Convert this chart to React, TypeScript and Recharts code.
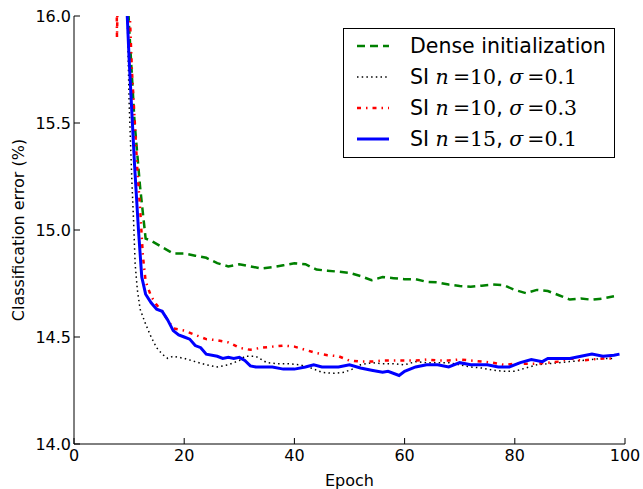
import React from 'react'
import { LineChart, Line, XAxis, YAxis, Legend } from 'recharts'

// epochs / error (%), one pair of arrays per run
const denseEpochs = [9, 10, 11, 12, 13, 14, 16, 18, 20, 22, 24, 26, 28, 30, 32, 34, 36, 38, 40, 42, 44, 46, 48, 50, 52, 54, 56, 58, 60, 62, 64, 66, 68, 70, 72, 74, 76, 78, 80, 82, 84, 86, 88, 90, 92, 94, 96, 98]
const denseError = [16.5, 15.95, 15.5, 15.2, 14.96, 14.95, 14.92, 14.89, 14.89, 14.88, 14.87, 14.845, 14.83, 14.84, 14.83, 14.82, 14.826, 14.835, 14.845, 14.84, 14.815, 14.81, 14.805, 14.8, 14.785, 14.765, 14.78, 14.775, 14.77, 14.77, 14.758, 14.755, 14.745, 14.738, 14.735, 14.74, 14.745, 14.742, 14.72, 14.705, 14.72, 14.715, 14.695, 14.675, 14.68, 14.674, 14.68, 14.69]

const si10a01Epochs = [9.6, 10, 10.5, 10.8, 11.1, 11.5, 12, 13, 14, 15, 16, 17, 18, 20, 22, 24, 26, 28, 30, 31, 33, 35, 37, 39, 41, 43, 45, 47, 49, 50.5, 52, 54, 56, 58, 60, 62, 64, 66, 68, 70, 72, 74, 76, 78, 80, 82, 84, 86, 88, 90, 92, 94, 96, 98]
const si10a01Error = [16.1, 15.6, 15.23, 15.05, 14.84, 14.72, 14.63, 14.56, 14.5, 14.45, 14.42, 14.4, 14.41, 14.4, 14.385, 14.37, 14.36, 14.37, 14.39, 14.41, 14.41, 14.38, 14.375, 14.375, 14.37, 14.355, 14.335, 14.33, 14.335, 14.35, 14.37, 14.38, 14.375, 14.375, 14.37, 14.385, 14.38, 14.38, 14.38, 14.37, 14.36, 14.355, 14.345, 14.34, 14.34, 14.355, 14.37, 14.375, 14.38, 14.385, 14.39, 14.395, 14.4, 14.4]

const si10a03Epochs = [7.6, 7.8, 8.3, 10, 10.5, 11, 11.5, 12, 12.5, 13, 14, 15, 16, 17, 18, 20, 22, 24, 26, 28, 30, 32, 34, 36, 38, 40, 42, 44, 46, 48, 50, 52, 54, 56, 58, 60, 62, 64, 66, 68, 70, 72, 74, 76, 78, 80, 82, 84, 86, 88, 90, 92, 94, 96, 98]
const si10a03Error = [16.5, 15.9, 16.6, 16.1, 15.75, 15.52, 15.28, 15.1, 14.88, 14.76, 14.69, 14.65, 14.62, 14.58, 14.54, 14.53, 14.51, 14.49, 14.485, 14.475, 14.45, 14.44, 14.45, 14.455, 14.46, 14.455, 14.44, 14.425, 14.415, 14.41, 14.39, 14.385, 14.385, 14.39, 14.39, 14.39, 14.39, 14.395, 14.39, 14.39, 14.395, 14.39, 14.385, 14.38, 14.37, 14.375, 14.375, 14.375, 14.38, 14.385, 14.4, 14.39, 14.395, 14.4, 14.4]

const si15a01Epochs = [9.5, 10, 11, 11.7, 12.3, 13, 14, 15, 16, 17, 18, 19, 20, 21, 22, 23, 24, 26, 27, 28, 29, 30, 31, 32, 33, 34, 36, 38, 40, 42, 43.5, 45, 48, 50, 52, 54, 56, 57, 59, 60, 62, 64, 66, 68, 70, 72, 75, 77, 79, 81, 83, 85, 86, 88, 90, 92, 94, 96, 98, 99]
const si15a01Error = [16.1, 15.8, 15.3, 15.0, 14.78, 14.7, 14.66, 14.63, 14.62, 14.58, 14.53, 14.51, 14.5, 14.49, 14.46, 14.45, 14.42, 14.41, 14.4, 14.405, 14.4, 14.405, 14.39, 14.365, 14.36, 14.36, 14.36, 14.35, 14.35, 14.36, 14.37, 14.36, 14.36, 14.37, 14.355, 14.345, 14.335, 14.34, 14.32, 14.34, 14.36, 14.37, 14.37, 14.36, 14.38, 14.37, 14.37, 14.36, 14.36, 14.38, 14.395, 14.385, 14.4, 14.4, 14.4, 14.41, 14.42, 14.41, 14.415, 14.42]

const xTicks = [0, 20, 40, 60, 80, 100]
const yTicks = [14.0, 14.5, 15.0, 15.5, 16.0]

const toPoints = (xs: number[], ys: number[]) => xs.map((epoch, i) => ({ epoch, err: ys[i] }))

const styles = {
  dense: { color: '#008000', width: 2.5, dash: '8 5' },
  si10a01: { color: '#000000', width: 1.5, dash: '1.5 3.2' },
  si10a03: { color: '#ff0000', width: 2.5, dash: '4 5 1.5 5' },
  si15a01: { color: '#0000ff', width: 3, dash: undefined as string | undefined },
}

const series = [
  { key: 'dense', data: toPoints(denseEpochs, denseError), ...styles.dense },
  { key: 'si10a01', data: toPoints(si10a01Epochs, si10a01Error), ...styles.si10a01 },
  { key: 'si10a03', data: toPoints(si10a03Epochs, si10a03Error), ...styles.si10a03 },
  { key: 'si15a01', data: toPoints(si15a01Epochs, si15a01Error), ...styles.si15a01 },
]

const FONT = '"DejaVu Sans", sans-serif'
const MATH = '"DejaVu Serif", serif'

const BottomTick = ({ x, y, payload }: any) => (
  <g>
    <line x1={x} y1={y} x2={x} y2={y - 6} stroke="#000" />
    <text x={x} y={y + 17} textAnchor="middle" fontSize={16} fontFamily={FONT} fill="#000">
      {payload.value}
    </text>
  </g>
)
const TopTick = ({ x, y }: any) => <line x1={x} y1={y} x2={x} y2={y + 6} stroke="#000" />
const LeftTick = ({ x, y, payload }: any) => (
  <g>
    <line x1={x} y1={y} x2={x + 6} y2={y} stroke="#000" />
    <text x={x - 3} y={y} dy="0.35em" textAnchor="end" fontSize={16} fontFamily={FONT} fill="#000">
      {Number(payload.value).toFixed(1)}
    </text>
  </g>
)
const RightTick = ({ x, y }: any) => <line x1={x} y1={y} x2={x - 6} y2={y} stroke="#000" />

const legendRows = [
  { ...styles.dense, n: '', s: '' },
  { ...styles.si10a01, n: '10', s: '0.1' },
  { ...styles.si10a03, n: '10', s: '0.3' },
  { ...styles.si15a01, n: '15', s: '0.1' },
]

const LegendBox = () => (
  <div
    style={{
      border: '1px solid #000',
      background: '#fff',
      width: 270,
      height: 127,
      boxSizing: 'content-box',
      fontFamily: FONT,
      fontSize: 20.5,
      color: '#000',
      paddingTop: 1,
    }}
  >
    {legendRows.map((r, i) => (
      <div key={i} style={{ height: 31, display: 'flex', alignItems: 'center', whiteSpace: 'nowrap' }}>
        <svg width={66} height={31} style={{ flex: 'none' }}>
          <line x1={13} y1={16} x2={45} y2={16} stroke={r.color} strokeWidth={r.width} strokeDasharray={r.dash} />
        </svg>
        {r.n === '' ? (
          <span>Dense initialization</span>
        ) : (
          <span>
            SI <span style={{ fontFamily: MATH, fontStyle: 'italic' }}>n</span>
            <span style={{ fontFamily: MATH }}>{'\u2009=' + r.n}</span>,{' '}
            <span style={{ fontFamily: MATH, fontStyle: 'italic' }}>σ</span>
            <span style={{ fontFamily: MATH }}>{'\u2009=' + r.s}</span>
          </span>
        )}
      </div>
    ))}
  </div>
)

export default function App() {
  return (
    <div style={{ position: 'absolute', left: 0, top: 0, background: '#fff' }}>
      <LineChart width={643} height={489} margin={{ top: 16, right: 18, bottom: 0, left: 0 }}>
        <XAxis
          xAxisId="bottom"
          dataKey="epoch"
          type="number"
          domain={[0, 100]}
          ticks={xTicks}
          allowDataOverflow
          height={45}
          tickSize={0}
          tickMargin={0}
          tickLine={false}
          tick={<BottomTick />}
          axisLine={{ stroke: '#000' }}
          label={({ viewBox }: any) => (
            <text x={viewBox.x + viewBox.width / 2} y={viewBox.y + 42} textAnchor="middle" fontSize={16} fontFamily={FONT} fill="#000">
              Epoch
            </text>
          )}
        />
        <XAxis
          xAxisId="top"
          orientation="top"
          dataKey="epoch"
          type="number"
          domain={[0, 100]}
          ticks={xTicks}
          height={0}
          tickSize={0}
          tickMargin={0}
          tickLine={false}
          tick={<TopTick />}
          axisLine={{ stroke: '#000' }}
        />
        <YAxis
          yAxisId="left"
          type="number"
          domain={[14, 16]}
          ticks={yTicks}
          allowDataOverflow
          width={74}
          tickSize={0}
          tickMargin={0}
          tickLine={false}
          tick={<LeftTick />}
          axisLine={{ stroke: '#000' }}
          label={({ viewBox }: any) => {
            const cy = viewBox.y + viewBox.height / 2
            return (
              <text x={24} y={cy} transform={`rotate(-90 24 ${cy})`} textAnchor="middle" fontSize={16} fontFamily={FONT} fill="#000">
                Classification error (%)
              </text>
            )
          }}
        />
        <YAxis
          yAxisId="right"
          orientation="right"
          type="number"
          domain={[14, 16]}
          ticks={yTicks}
          width={0}
          tickSize={0}
          tickMargin={0}
          tickLine={false}
          tick={<RightTick />}
          axisLine={{ stroke: '#000' }}
        />
        {series.map((s) => (
          <Line
            key={s.key}
            xAxisId="bottom"
            yAxisId="left"
            data={s.data}
            dataKey="err"
            type="linear"
            stroke={s.color}
            strokeWidth={s.width}
            strokeDasharray={s.dash}
            dot={false}
            activeDot={false}
            isAnimationActive={false}
          />
        ))}
        <Legend
          layout="vertical"
          align="center"
          verticalAlign="middle"
          content={<LegendBox />}
          wrapperStyle={{ left: 343, top: 28, width: 272, height: 129 }}
        />
      </LineChart>
    </div>
  )
}
